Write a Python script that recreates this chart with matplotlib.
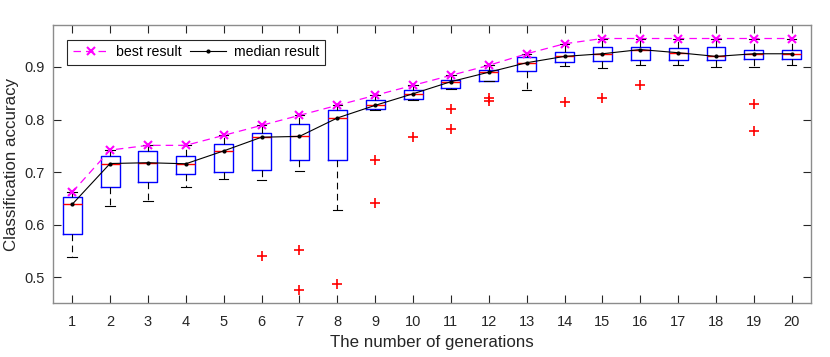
import numpy as np
import matplotlib
matplotlib.use('Agg')
import matplotlib.pyplot as plt

plt.rcParams['font.family'] = ['Liberation Sans', 'DejaVu Sans']

# generations on the x axis
generations = list(range(1, 21))

# best result of each generation (top of the upper whisker too)
best = [0.662, 0.742, 0.751, 0.751, 0.770, 0.789, 0.808, 0.827, 0.846, 0.865,
        0.884, 0.903, 0.925, 0.944, 0.954, 0.954, 0.954, 0.954, 0.954, 0.954]

# median result of each generation
median = [0.639, 0.7165, 0.718, 0.716, 0.7405, 0.7665, 0.768, 0.803, 0.827, 0.849,
          0.872, 0.890, 0.908, 0.920, 0.925, 0.933, 0.927, 0.920, 0.925, 0.925]

# upper and lower quartiles
q3 = [0.652, 0.730, 0.740, 0.730, 0.753, 0.775, 0.791, 0.818, 0.837, 0.857,
      0.875, 0.894, 0.918, 0.9285, 0.938, 0.937, 0.936, 0.937, 0.933, 0.933]
q1 = [0.5835, 0.671, 0.681, 0.696, 0.701, 0.705, 0.723, 0.724, 0.821, 0.839,
      0.8595, 0.874, 0.893, 0.909, 0.912, 0.913, 0.913, 0.913, 0.916, 0.916]

# lower whisker ends
whislo = [0.539, 0.636, 0.645, 0.672, 0.688, 0.686, 0.703, 0.628, 0.818, 0.838,
          0.858, 0.873, 0.857, 0.902, 0.898, 0.903, 0.903, 0.900, 0.900, 0.903]

# outliers of each generation
outliers = [[], [], [], [], [], [0.540], [0.553, 0.476], [0.487], [0.723, 0.642], [0.766],
            [0.821, 0.783], [0.841, 0.835], [], [0.8335], [0.841], [0.865], [], [], [0.829, 0.7785], []]

#build the box statistics for bxp
stats = []
for i in range(len(generations)):
    stats.append({'med': median[i], 'q1': q1[i], 'q3': q3[i],
                  'whislo': whislo[i], 'whishi': best[i], 'fliers': outliers[i]})

fig = plt.figure(figsize=(8.3, 3.57), dpi=100)
ax = fig.add_axes([0.0642, 0.152, 0.9125, 0.777])

ax.bxp(stats, positions=generations, widths=0.5, showfliers=True,
       boxprops=dict(color='#0000ff', linewidth=1.0),
       medianprops=dict(color='#ff0000', linewidth=1.0),
       whiskerprops=dict(color='black', linewidth=0.8, linestyle=(0, (6, 4))),
       capprops=dict(color='black', linewidth=0.8),
       capwidths=0.25,
       flierprops=dict(marker='+', markeredgecolor='#ff0000', markersize=7, markeredgewidth=1.2))

#best and median curves
ax.plot(generations, best, color='#ff00ff', linestyle=(0, (6, 4)), linewidth=0.9,
        marker='x', markersize=6, markeredgewidth=1.5, label='best result', zorder=4)
ax.plot(generations, median, color='black', linewidth=0.8,
        marker='.', markersize=4, label='median result', zorder=5)

ax.set_xlim(0.5, 20.5)
ax.set_ylim(0.452, 0.979)
ax.set_xticks(generations)
ax.set_xticklabels([str(g) for g in generations])
ax.set_yticks([0.5, 0.6, 0.7, 0.8, 0.9])
ax.tick_params(direction='in', length=5.5, width=0.8, colors='#262626',
               labelsize=10.5, top=True, right=True)
ax.tick_params(axis='x', pad=9)
ax.tick_params(axis='y', pad=6)
for s in ax.spines.values():
    s.set_color('#8c8c8c')
    s.set_linewidth(1.0)

ax.set_xlabel('The number of generations', fontsize=12.2, color='#262626', labelpad=4)
ax.set_ylabel('Classification accuracy', fontsize=12.2, color='#262626', labelpad=4)

leg = ax.legend(loc='upper left', ncol=2, fontsize=10.2, fancybox=False, framealpha=1,
                edgecolor='#262626', borderaxespad=1.0, handlelength=2.5, columnspacing=0.6,
                handletextpad=0.55, borderpad=0.4)
leg.get_frame().set_linewidth(0.8)

plt.savefig('out.png', dpi=100)
